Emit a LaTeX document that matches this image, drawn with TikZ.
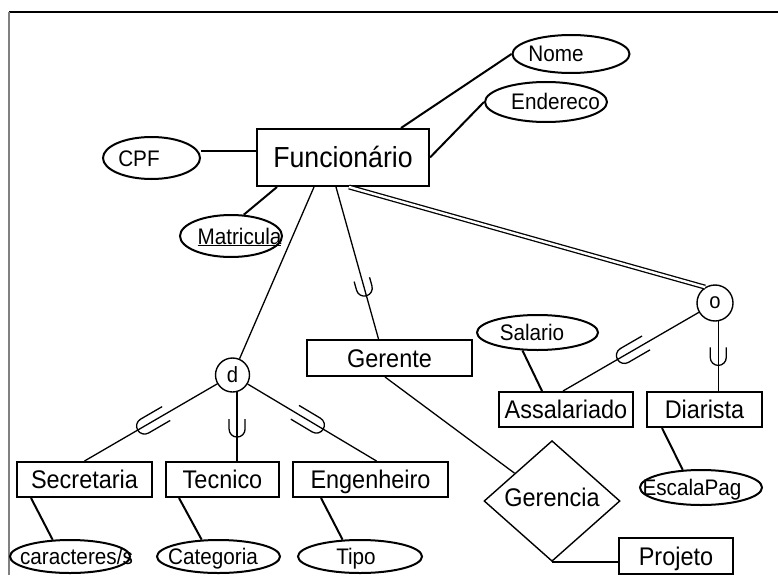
\documentclass[tikz,border=0pt]{standalone}
\usepackage{fontspec}
\setmainfont{Liberation Sans}[FakeStretch=0.92]
\usetikzlibrary{shapes.geometric,decorations.markings,calc}

% shift a label horizontally inside its node by #1 pt
\newcommand\offsettext[2]{\makebox[0pt]{\hspace*{#1pt}\hspace*{#1pt}#2}}

\begin{document}
\begin{tikzpicture}[x=1pt,y=1pt,
  entity/.style={draw, line width=2pt, rectangle, inner sep=0pt,
    text height=18.2pt, text depth=0pt,
    font=\fontsize{25.5}{29}\selectfont},
  attr/.style={draw, line width=2pt, ellipse, inner sep=0pt,
    text height=16pt, text depth=0pt,
    font=\fontsize{22.5}{26}\selectfont},
  disc/.style={draw, line width=1.4pt, circle, inner sep=0pt, minimum size=#1,
    font=\fontsize{22}{25}\selectfont},
  rel/.style={draw, line width=1.4pt, diamond, inner sep=0pt,
    font=\fontsize{25.5}{29}\selectfont},
  link/.style={line width=1.3pt},
  alink/.style={line width=2pt},
  isa/.style 2 args={postaction={decorate, decoration={markings,
    mark=at position #1 with {\draw[line width=1.3pt] (-#2,8) -- (0,8)
      arc[start angle=90,end angle=-90,radius=8] -- (-#2,-8);}}}},
]
\useasboundingbox (0,0) rectangle (778,-575);

% frame
\draw[line width=1.3pt] (9,-12) -- (778,-12);
\draw[gray, line width=1.3pt] (9,-12) -- (9,-575);

% entities
\node[entity, minimum width=172pt, minimum height=57pt, text height=20.8pt, font=\fontsize{29}{33}\selectfont] (func) at (343,-157.5) {Funcionário};
\node[entity, minimum width=165pt, minimum height=36pt] (gerente) at (389.5,-358) {Gerente};
\node[entity, minimum width=134pt, minimum height=35pt] (assal) at (566,-409.5) {Assalariado};
\node[entity, minimum width=115pt, minimum height=35pt] (diarista) at (704.5,-409.5) {Diarista};
\node[entity, minimum width=114pt, minimum height=36pt] (projeto) at (676,-556) {Projeto};
\node[entity, minimum width=135pt, minimum height=35pt] (sec) at (84.5,-479.5) {Secretaria};
\node[entity, minimum width=113pt, minimum height=35pt] (tec) at (222.5,-479.5) {Tecnico};
\node[entity, minimum width=155pt, minimum height=35pt] (eng) at (370.5,-479.5) {Engenheiro};

% relationship
\node[rel, minimum width=136pt, minimum height=118pt] (gerencia) at (552,-501) {\raisebox{7pt}{Gerencia}};

% specialisation circles
\node[disc=34pt] (d) at (232.5,-375) {d};
\node[disc=36pt] (o) at (715,-303) {o};

% attributes
\node[attr, minimum width=97pt, minimum height=42pt] (cpf) at (151.5,-158) {\offsettext{-12.5}{CPF}};
\node[attr, minimum width=117pt, minimum height=38pt] (nome) at (571,-54) {\offsettext{-15}{Nome}};
\node[attr, minimum width=122pt, minimum height=40pt] (endereco) at (546,-102) {\offsettext{9.5}{Endereco}};
\node[attr, minimum width=102pt, minimum height=42pt] (matricula) at (231,-236) {\offsettext{8.5}{\underline{Matricula}}};
\node[attr, minimum width=121pt, minimum height=35pt] (salario) at (537.5,-332.5) {\offsettext{-5.5}{Salario}};
\node[attr, minimum width=122pt, minimum height=35pt] (escala) at (701,-487.5) {\offsettext{-9}{EscalaPag}};
\node[attr, minimum width=120pt, minimum height=33pt] (car) at (70,-556.5) {\offsettext{6.5}{caracteres/s}};
\node[attr, minimum width=123pt, minimum height=33pt] (cat) at (218.5,-556.5) {\offsettext{-5.5}{Categoria}};
\node[attr, minimum width=124pt, minimum height=33pt] (tipo) at (360,-556.5) {\offsettext{-4}{Tipo}};

% attribute links
\draw[alink] ([xshift=145pt]func.north west) -- (nome.west);
\draw[alink] (func.east) -- (endereco.west);
\draw[alink] ([yshift=6.5pt]func.west) -- ([yshift=6.5pt]func.west -| cpf.east);
\draw[alink] ([xshift=21pt]func.south west) -- (matricula.59);
\draw[alink] (salario.230) -- ([xshift=-24pt]assal.north);
\draw[alink] ([xshift=-42.5pt]diarista.south) -- (escala.136);
\draw[alink] ([xshift=15pt]sec.south west) -- (car.136);
\draw[alink] ([xshift=14pt]tec.south west) -- (cat.135);
\draw[alink] ([xshift=29pt]eng.south west) -- (tipo.136);

% specialisation links
\draw[link] ([xshift=58pt]func.south west) -- (d);
\draw[link, isa={105pt}{9}] ([xshift=80pt]func.south west) -- ([xshift=-11pt]gerente.north);
\draw[link, double, double distance=2.4pt] ([xshift=93pt]func.south west) -- (o.122);
\draw[link, isa={84pt}{25}] (d) -- (sec.north);
\draw[link, isa={37pt}{10}] (d.-75) -- (d.-75 |- tec.north);
\draw[link, isa={80pt}{25}] (d) -- ([xshift=6pt]eng.north);
\draw[link, isa={86pt}{25}] (o) -- ([xshift=-3pt]assal.north);
\draw[link, isa={36pt}{10}] (o.-80) -- (o.-80 |- diarista.north);

% relationship links
\draw[link] ([xshift=-4.5pt]gerente.south) -- (gerencia);
\draw[link] (gerencia.south) -- (gerencia.south -| projeto.west);
\end{tikzpicture}
\end{document}
